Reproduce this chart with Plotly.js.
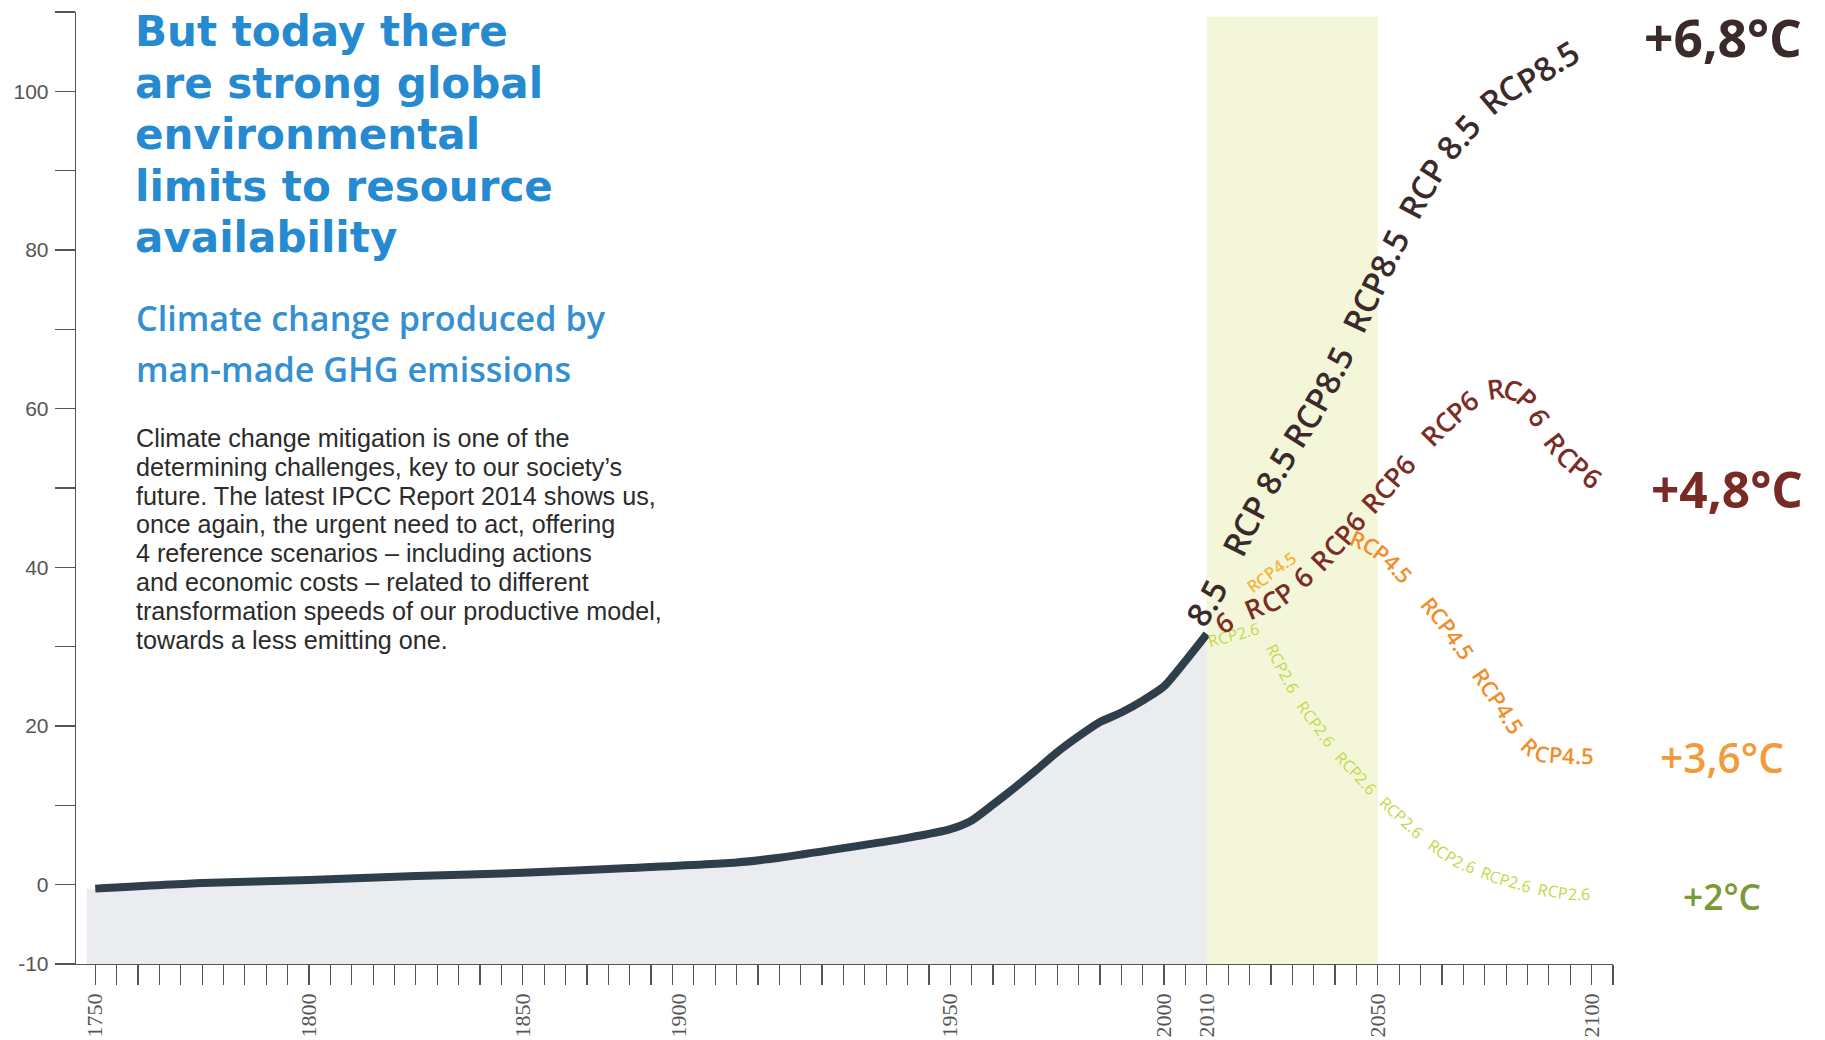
<!DOCTYPE html>
<html>
<head>
<meta charset="utf-8">
<script src="https://cdn.plot.ly/plotly-3.0.1.min.js"></script>
<style>
html,body{margin:0;padding:0;background:#ffffff;overflow:hidden;}
#chart{width:1825px;height:1040px;}
</style>
</head>
<body>
<div id="chart"></div>
<script>
// ================= DATA =================
const histYears  = [1750,1775,1800,1825,1850,1875,1900,1910,1925,1940,1950,1955,1960,1965,1970,1975,1980,1985,1990,1995,2000,2005,2010];
const histValues = [-0.5,0.2,0.6,1.1,1.5,2.1,2.8,3.4,4.6,5.9,7.0,8.1,10.1,12.2,14.4,16.7,18.7,20.5,21.7,23.2,25.0,28.2,31.6];

// Scenario paths (the lines along which the scenario names are written)
const rcp85Years  = [2006.5,2010.5,2016,2022,2029,2036.3,2043,2049.4,2056.5,2063.7,2071,2078,2085.6,2092,2099];
const rcp85Values = [32.6,36.0,42.0,48.3,55.0,61.4,68.8,76.1,83.8,90.7,95.6,99.3,101.7,104.0,106.3];
const rcp85LabelYears = [2010.0,2022.0,2036.3,2049.4,2063.7,2085.6];
const rcp85LabelText  = ['8.5','RCP 8.5','RCP8.5','RCP8.5','RCP 8.5','RCP8.5'];

const rcp6Years  = [2011.5,2014.2,2020.5,2027.1,2034,2040.7,2046.5,2052.4,2060,2067.7,2073.5,2078.8,2083,2086,2089.6,2093,2096.6,2101.5];
const rcp6Values = [32.0,33.2,34.8,36.4,39.6,43.3,47.0,50.5,55.2,59.3,61.8,62.6,62.0,60.6,57.3,54.8,52.9,50.8];
const rcp6LabelYears = [2013.8,2027.1,2040.7,2052.4,2066.8,2083.8,2095.6];
const rcp6LabelText  = ['6','RCP 6','RCP6','RCP6','RCP6','RCP 6','RCP6'];

const rcp45Years  = [2016.9,2025.1,2032.6,2039.5,2044.5,2051.3,2058.6,2066.6,2072.7,2078.3,2083.5,2087,2092.6,2099.5];
const rcp45Values = [36.1,39.4,42.3,44.2,43.8,41.7,37.7,32.4,27.6,23.2,18.9,16.9,16.4,16.3];
const rcp45LabelYears = [2025.1,2051.3,2066.6,2078.3,2092.0];
const rcp45LabelText  = ['RCP4.5','RCP4.5','RCP4.5','RCP4.5','RCP4.5'];

const rcp26Years  = [2010.0,2016.3,2022.5,2024.5,2027.6,2031.5,2035.6,2040,2045,2050,2055.5,2061,2067.3,2073.5,2080,2087,2094,2100.8];
const rcp26Values = [30.6,31.5,32.2,30.6,27.3,23.4,20.3,17.0,14.1,11.2,8.5,5.8,3.4,1.8,0.6,-0.4,-1.1,-1.2];
const rcp26LabelYears = [2016.3,2027.6,2035.6,2045,2055.5,2067.3,2080,2093.6];
const rcp26LabelText  = ['RCP2.6','RCP2.6','RCP2.6','RCP2.6','RCP2.6','RCP2.6','RCP2.6','RCP2.6'];

const focusPeriod = [2010, 2050];
const warmingLabels = ['+6,8°C','+4,8°C','+3,6°C','+2°C'];

const xTickLabelPos  = [1750,1800,1850,1886.5,1950,2000,2010,2050,2100];
const xTickLabelText = ['1750','1800','1850','1900','1950','2000','2010','2050','2100'];
const yTickVals = [-10,0,10,20,30,40,50,60,70,80,90,100,110];
const yTickText = ['-10','0','','20','','40','','60','','80','','100',''];

const titleLines = ['But today there','are strong global','environmental','limits to resource','availability'];
const subtitleLines = ['Climate change produced by','man-made GHG emissions'];
const bodyLines = [
  'Climate change mitigation is one of the',
  'determining challenges, key to our society’s',
  'future. The latest IPCC Report 2014 shows us,',
  'once again, the urgent need to act, offering',
  '4 reference scenarios – including actions',
  'and economic costs – related to different',
  'transformation speeds of our productive model,',
  'towards a less emitting one.'
];

// ================= LAYOUT GEOMETRY / STYLES =================
const W = 1825, H = 1040;
const margin = {l:76, r:212, t:12, b:76, pad:0};
const xRange = [1745.5, 2105];
const yRange = [-10, 110];
const fillStartYear = 1748;
const plotW = W - margin.l - margin.r;
const plotH = H - margin.t - margin.b;

const SANS = '"Open Sans", "Noto Sans", sans-serif';
const TITLE = '"DejaVu Sans", "Open Sans", sans-serif';
const BODY = '"Liberation Sans", Arial, sans-serif';
const styles = {
  rcp85: {family: SANS, weight: 600, size: 33, color: '#3b2a2a'},
  rcp6:  {family: SANS, weight: 600, size: 27, color: '#7a2d26'},
  rcp45: {family: SANS, weight: 600, size: 22, color: '#ef8e2d', firstSize: 17, firstColor: '#f4b53e'},
  rcp26: {family: SANS, weight: 500, size: 16, color: '#c3d846'}
};
const warmStyles = [
  {color:'#3b2a2a', weight:700, width:158, left:1643, top:0},
  {color:'#7a2a25', weight:700, width:152, left:1650, cy:489},
  {color:'#f29b3a', weight:600, width:124, left:1659, cy:757},
  {color:'#7b9a33', weight:600, width:78,  left:1682, cy:896}
];

function toPx(x, y){
  return [(x - xRange[0]) / (xRange[1] - xRange[0]) * plotW,
          (yRange[1] - y) / (yRange[1] - yRange[0]) * plotH];
}
function toData(p){
  return [xRange[0] + p[0] / plotW * (xRange[1] - xRange[0]),
          yRange[1] - p[1] / plotH * (yRange[1] - yRange[0])];
}
const paperX = px => (px - margin.l) / plotW;
const paperY = py => (H - margin.b - py) / plotH;

const mctx = document.createElement('canvas').getContext('2d');
function textWidth(str, weight, size, family){
  mctx.font = weight + ' ' + size + 'px ' + family;
  return mctx.measureText(str).width;
}
function fitSize(str, weight, family, target){
  return 100 * target / textWidth(str, weight, 100, family);
}

// ---------- text on a path ----------
function buildPath(years, values){
  const pts = years.map((yr, i) => toPx(yr, values[i]));
  const dense = [];
  const n = 30;
  for (let i = 0; i < pts.length - 1; i++){
    const p0 = pts[Math.max(0, i - 1)], p1 = pts[i], p2 = pts[i + 1], p3 = pts[Math.min(pts.length - 1, i + 2)];
    for (let k = 0; k < n; k++){
      const t = k / n, t2 = t * t, t3 = t2 * t;
      const cr = (a, b, c, d) => 0.5 * (2 * b + (-a + c) * t + (2 * a - 5 * b + 4 * c - d) * t2 + (-a + 3 * b - 3 * c + d) * t3);
      dense.push([cr(p0[0], p1[0], p2[0], p3[0]), cr(p0[1], p1[1], p2[1], p3[1])]);
    }
  }
  dense.push(pts[pts.length - 1]);
  const cum = [0];
  for (let i = 1; i < dense.length; i++){
    cum.push(cum[i - 1] + Math.hypot(dense[i][0] - dense[i - 1][0], dense[i][1] - dense[i - 1][1]));
  }
  return {dense, cum, len: cum[cum.length - 1]};
}
function pointAt(path, s){
  const d = path.dense, c = path.cum, L = path.len;
  if (s <= 0){
    const a = d[0], b = d[3];
    const h = Math.hypot(b[0] - a[0], b[1] - a[1]) || 1;
    return [a[0] + (b[0] - a[0]) / h * s, a[1] + (b[1] - a[1]) / h * s];
  }
  if (s >= L){
    const a = d[d.length - 4], b = d[d.length - 1];
    const h = Math.hypot(b[0] - a[0], b[1] - a[1]) || 1;
    return [b[0] + (b[0] - a[0]) / h * (s - L), b[1] + (b[1] - a[1]) / h * (s - L)];
  }
  let i = 0;
  while (i < c.length - 2 && c[i + 1] < s) i++;
  const seg = c[i + 1] - c[i] || 1;
  const t = (s - c[i]) / seg;
  return [d[i][0] + (d[i + 1][0] - d[i][0]) * t, d[i][1] + (d[i + 1][1] - d[i][1]) * t];
}
function angleAt(path, s, span){
  const a = pointAt(path, s - span), b = pointAt(path, s + span);
  return Math.atan2(b[1] - a[1], b[0] - a[0]) * 180 / Math.PI;
}
function sAtX(path, xp){
  const d = path.dense, c = path.cum;
  for (let i = 0; i < d.length - 1; i++){
    const x0 = d[i][0], x1 = d[i + 1][0];
    if ((xp >= x0 && xp <= x1) || (xp <= x0 && xp >= x1)){
      const t = (x1 === x0) ? 0 : (xp - x0) / (x1 - x0);
      return c[i] + (c[i + 1] - c[i]) * t;
    }
  }
  return xp < d[0][0] ? 0 : path.len;
}
function pathAnnotations(years, values, labelYears, labelTexts, st){
  const path = buildPath(years, values);
  const out = [];
  labelTexts.forEach((txt, li) => {
    const size = (li === 0 && st.firstSize) ? st.firstSize : st.size;
    const color = (li === 0 && st.firstColor) ? st.firstColor : st.color;
    const chars = [...txt];
    const ws = chars.map(ch => textWidth(ch, st.weight, size, st.family));
    const total = ws.reduce((a, b) => a + b, 0);
    const sc = sAtX(path, toPx(labelYears[li], 0)[0]);
    let s = sc - total / 2;
    chars.forEach((ch, ci) => {
      const sMid = s + ws[ci] / 2;
      s += ws[ci];
      if (ch === ' ') return;
      const p = pointAt(path, sMid);
      const dd = toData(p);
      out.push({
        xref: 'x', yref: 'y', x: dd[0], y: dd[1], text: ch, showarrow: false,
        textangle: angleAt(path, sMid, Math.max(4, size * 0.35)),
        xanchor: 'center', yanchor: 'middle',
        font: {family: st.family, size: size, color: color, weight: st.weight}
      });
    });
  });
  return out;
}

// ================= TRACES =================
const fillX = [fillStartYear].concat(histYears);
const fillY = [histValues[0]].concat(histValues);
const traces = [
  {type:'scatter', mode:'lines', x: fillX, y: fillX.map(() => yRange[0]),
   line:{width:0, color:'rgba(0,0,0,0)'}, hoverinfo:'skip', showlegend:false},
  {type:'scatter', mode:'lines', x: fillX, y: fillY, fill:'tonexty', fillcolor:'#ebecf0',
   line:{width:0, color:'rgba(0,0,0,0)', shape:'spline', smoothing:0.6}, hoverinfo:'skip', showlegend:false},
  {type:'scatter', mode:'lines', x: histYears, y: histValues, name:'Historical emissions',
   line:{width:8, color:'#2f3e4b', shape:'spline', smoothing:0.6}, showlegend:false},
  {type:'scatter', mode:'none', x: xTickLabelPos, y: xTickLabelPos.map(() => yRange[0]),
   xaxis:'x2', yaxis:'y', hoverinfo:'skip', showlegend:false}
];

// ================= ANNOTATIONS =================
let annotations = [];

const titleSize = fitSize('limits to resource', 700, TITLE, 418);
titleLines.forEach((t, i) => annotations.push({
  xref:'paper', yref:'paper', x: paperX(134), y: paperY(31.5 + i * 51.6),
  xanchor:'left', yanchor:'middle', showarrow:false, text: t, borderpad: 0,
  font:{family: TITLE, size: titleSize, color:'#268ad0', weight:700}
}));
const subSize = fitSize('Climate change produced by', 600, SANS, 469);
subtitleLines.forEach((t, i) => annotations.push({
  xref:'paper', yref:'paper', x: paperX(134), y: paperY(318 + i * 50),
  xanchor:'left', yanchor:'middle', showarrow:false, text: t,
  font:{family: SANS, size: subSize, color:'#3490d0', weight:600}
}));
const bodySize = fitSize('transformation speeds of our productive model,', 400, BODY, 526);
bodyLines.forEach((t, i) => annotations.push({
  xref:'paper', yref:'paper', x: paperX(134), y: paperY(438 + i * 28.8),
  xanchor:'left', yanchor:'middle', showarrow:false, text: t,
  font:{family: BODY, size: bodySize, color:'#2b2b2b', weight:400}
}));

warmingLabels.forEach((t, i) => {
  const ws = warmStyles[i];
  const hasTop = (ws.top !== undefined);
  annotations.push({
    xref:'paper', yref:'paper', x: paperX(ws.left), y: paperY(hasTop ? ws.top + 1 : ws.cy),
    xanchor:'left', yanchor: hasTop ? 'top' : 'middle', showarrow:false, text: t, borderpad: 0,
    font:{family: SANS, size: fitSize(t, ws.weight, SANS, ws.width), color: ws.color, weight: ws.weight}
  });
});

annotations = annotations
  .concat(pathAnnotations(rcp26Years, rcp26Values, rcp26LabelYears, rcp26LabelText, styles.rcp26))
  .concat(pathAnnotations(rcp45Years, rcp45Values, rcp45LabelYears, rcp45LabelText, styles.rcp45))
  .concat(pathAnnotations(rcp6Years, rcp6Values, rcp6LabelYears, rcp6LabelText, styles.rcp6))
  .concat(pathAnnotations(rcp85Years, rcp85Values, rcp85LabelYears, rcp85LabelText, styles.rcp85));

// ================= LAYOUT =================
const layout = {
  width: W, height: H, margin: margin,
  paper_bgcolor:'#ffffff', plot_bgcolor:'rgba(0,0,0,0)',
  showlegend:false,
  xaxis:{
    range: xRange, tickmode:'linear', tick0:1750, dtick:5,
    ticks:'outside', ticklen:20, tickwidth:1.2, tickcolor:'#555555',
    showticklabels:false, showline:true, linecolor:'#555555', linewidth:1.3,
    showgrid:false, zeroline:false, fixedrange:true
  },
  xaxis2:{
    range: xRange, overlaying:'x', anchor:'y', side:'bottom',
    tickmode:'array', tickvals: xTickLabelPos, ticktext: xTickLabelText,
    ticks:'', showline:false, showgrid:false, zeroline:false, tickangle:-90,
    ticklabelstandoff: 24,
    tickfont:{family:'"Liberation Serif", "Times New Roman", serif', size:22, color:'#555555'}, fixedrange:true
  },
  yaxis:{
    range: yRange, tickmode:'array', tickvals: yTickVals, ticktext: yTickText,
    ticks:'outside', ticklen:20, tickwidth:1.2, tickcolor:'#555555',
    showline:true, linecolor:'#555555', linewidth:1.3,
    showgrid:false, zeroline:false, ticklabelstandoff: 2,
    tickfont:{family:'"Liberation Sans", Arial, sans-serif', size:21, color:'#555555'}, fixedrange:true
  },
  shapes:[{
    type:'rect', xref:'x', yref:'y', x0: focusPeriod[0], x1: focusPeriod[1], y0: yRange[0], y1: 109.4,
    fillcolor:'#f4f6da', line:{width:0}, layer:'below'
  }],
  annotations: annotations
};

Plotly.newPlot('chart', traces, layout, {displayModeBar:false, staticPlot:true});
</script>
</body>
</html>
